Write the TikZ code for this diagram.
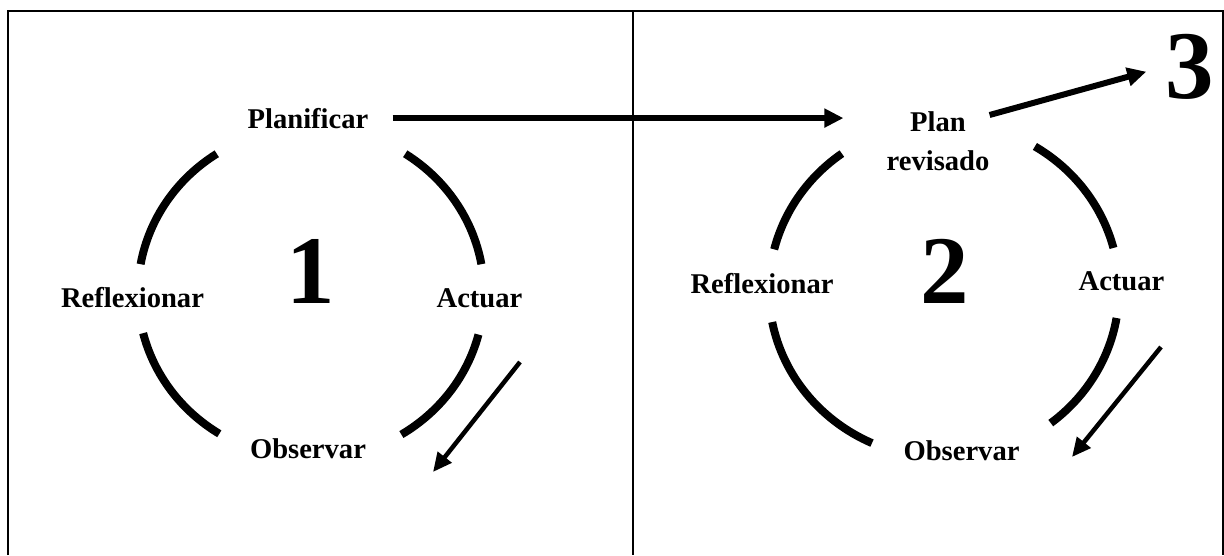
\documentclass[tikz,border=0pt]{standalone}
\usepackage{fontspec}
\setmainfont{Liberation Serif}
\usetikzlibrary{arrows.meta, calc}
\tikzset{
    marco/.style={line width=2pt, draw=black},
    arco/.style={line width=8pt, draw=black},
    etiqueta/.style={font=\fontsize{28.6}{39}\selectfont\bfseries, inner sep=0pt, anchor=base, align=center},
    numero/.style={font=\fontsize{97}{100}\selectfont\bfseries, inner sep=0pt, anchor=base},
    flecha/.style={-{Triangle[length=19pt, width=18pt]}, line width=6pt},
    flechafina/.style={-{Triangle[length=19pt, width=17pt]}, line width=4.5pt},
}

\begin{document}
\begin{tikzpicture}[x=1pt, y=1pt]
    \useasboundingbox (0,0) rectangle (1224,-555);
    % tabla
    \draw[marco] (8,-555) -- (8,-11) -- (1223,-11) -- (1223,-555);
    \draw[marco] (633,-11) -- (633,-555);

    % ciclo 1
    \coordinate (c1) at (311,-293);
    \foreach \ini/\fin in {10/57, 123/170, 194/238, 301.5/345.5}
        \draw[arco] (c1) ++(\ini:173 and 166) arc[start angle=\ini, end angle=\fin, x radius=173, y radius=166];
    \node[etiqueta] (plan1) at (308,-128) {Planificar};
    \node[etiqueta] (refl1) at (132.5,-307) {Reflexionar};
    \node[etiqueta] (act1) at (479.5,-307) {Actuar};
    \node[etiqueta] (obs1) at (308,-458) {Observar};
    \node[numero] (num1) at (311,-303) {1};

    % ciclo 2
    \coordinate (c2) at (944,-290);
    \foreach \ini/\fin in {14.5/58.7, 125.7/166, 191/245.7, 307.6/350.4}
        \draw[arco] (c2) ++(\ini:175 and 168) arc[start angle=\ini, end angle=\fin, x radius=175, y radius=168];
    \node[etiqueta, anchor=north] (plan2) at (938,-111) {Plan\\revisado};
    \node[etiqueta] (refl2) at (762,-293) {Reflexionar};
    \node[etiqueta] (act2) at (1121.5,-290) {Actuar};
    \node[etiqueta] (obs2) at (961.5,-460) {Observar};
    \node[numero] (num2) at (945,-303) {2};
    \node[numero] (num3) at (1190,-98) {3};

    % flechas
    \coordinate (d1a) at (520,-362);
    \coordinate (d1b) at (433,-472);
    \coordinate (d2a) at (1161,-347);
    \coordinate (d2b) at (1072,-457);
    \draw[flecha, shorten <=24pt, shorten >=43pt] (plan1.east) -- (plan1.east -| plan2.west);
    \draw[flecha, shorten >=20pt] ([yshift=-4pt]plan2.north east) -- (num3.west);
    \draw[flechafina] (d1a) -- (d1b);
    \draw[flechafina] (d2a) -- (d2b);
\end{tikzpicture}
\end{document}
